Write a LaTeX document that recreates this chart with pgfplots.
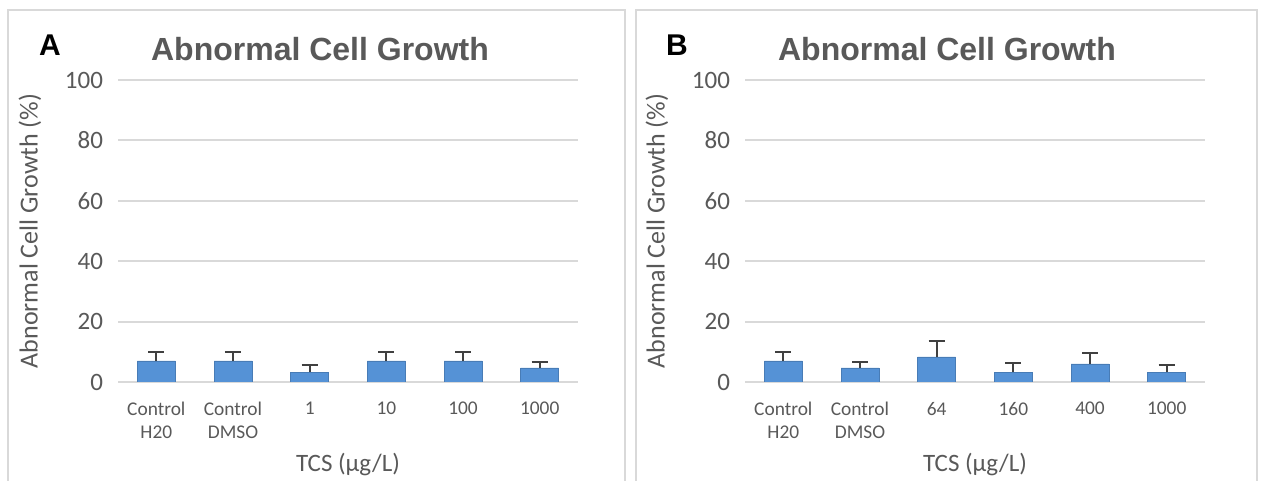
\documentclass[border=0pt]{standalone}
\usepackage{pgfplots}
\pgfplotsset{compat=1.18}
\usepackage{fontspec}
\setmainfont{Carlito}
\newfontfamily\titlefont{Liberation Sans}
\definecolor{txtgray}{HTML}{595959}
\definecolor{gridgray}{HTML}{D9D9D9}
\definecolor{barblue}{HTML}{5592D6}
\definecolor{errgray}{HTML}{404040}
\pgfplotsset{
  panel/.style={
    scale only axis, width=230pt, height=151pt,
    anchor=south west,
    xmin=-0.5, xmax=5.5, ymin=0, ymax=100,
    ytick={0,20,40,60,80,100},
    xtick={0,...,5},
    ymajorgrids, grid style={gridgray, line width=1pt},
    axis line style={draw=none},
    major tick length=0pt,
    /pgf/number format/assume math mode=true,
    yticklabel style={font=\fontsize{12.5}{14}\selectfont, text=txtgray, xshift=-4pt},
    xticklabel style={font=\fontsize{9.7}{11.5}\selectfont, text=txtgray, align=center, yshift=-6.5pt},
    every axis y label/.style={at={(rel axis cs:0,0.5)}, xshift=-44pt, rotate=90, anchor=center,
      font=\fontsize{13}{15}\selectfont, text=txtgray},
    every axis x label/.style={at={(rel axis cs:0.5,0)}, yshift=-41.5pt, anchor=center,
      font=\fontsize{12.5}{14}\selectfont, text=txtgray},
    every axis title/.style={at={(rel axis cs:0.5,1)}, yshift=15.5pt, xshift=-14pt, anchor=center,
      font=\titlefont\bfseries\fontsize{16}{18}\selectfont, text=txtgray},
    title={Abnormal Cell Growth},
    ylabel={Abnormal Cell Growth (\%)},
    xlabel={TCS (µg/L)},
  },
  errbar/.style={
    ybar, bar width=19pt, fill=barblue, draw=barblue!85!black, line width=0.3pt,
    error bars/.cd, y dir=plus, y explicit,
    error bar style={errgray, line width=1.1pt},
    error mark options={errgray, line width=1.1pt, mark size=4pt, rotate=90},
  },
}
\begin{document}
\begin{tikzpicture}
\useasboundingbox (0,0) rectangle (632pt,240.5pt);
\fill[white] (0,0) rectangle (632pt,240.5pt);
\draw[gridgray, line width=1pt] (4pt,-3pt) -- (4pt,235.5pt) -- (312.5pt,235.5pt) -- (312.5pt,-3pt);
\draw[gridgray, line width=1pt] (318pt,-3pt) -- (318pt,235.5pt) -- (628.5pt,235.5pt) -- (628.5pt,-3pt);
\node[font=\titlefont\bfseries\fontsize{15}{17}\selectfont, anchor=center] at (25pt,218pt) {A};
\node[font=\titlefont\bfseries\fontsize{15}{17}\selectfont, anchor=center] at (338.5pt,218pt) {B};
\begin{axis}[panel, at={(59pt,49.5pt)},
  xticklabels={Control\\H20, Control\\DMSO, 1, 10, 100, 1000}]
\addplot[errbar] coordinates {
  (0,7.0) +- (0,3.0)
  (1,7.0) +- (0,3.0)
  (2,3.3) +- (0,2.3)
  (3,7.0) +- (0,3.0)
  (4,7.0) +- (0,3.0)
  (5,4.7) +- (0,2.0)
};
\end{axis}
\begin{axis}[panel, at={(372.5pt,49.5pt)},
  xticklabels={Control\\H20, Control\\DMSO, 64, 160, 400, 1000}]
\addplot[errbar] coordinates {
  (0,7.0) +- (0,3.0)
  (1,4.7) +- (0,2.0)
  (2,8.3) +- (0,5.3)
  (3,3.3) +- (0,3.0)
  (4,6.0) +- (0,3.7)
  (5,3.3) +- (0,2.3)
};
\end{axis}
\end{tikzpicture}
\end{document}
